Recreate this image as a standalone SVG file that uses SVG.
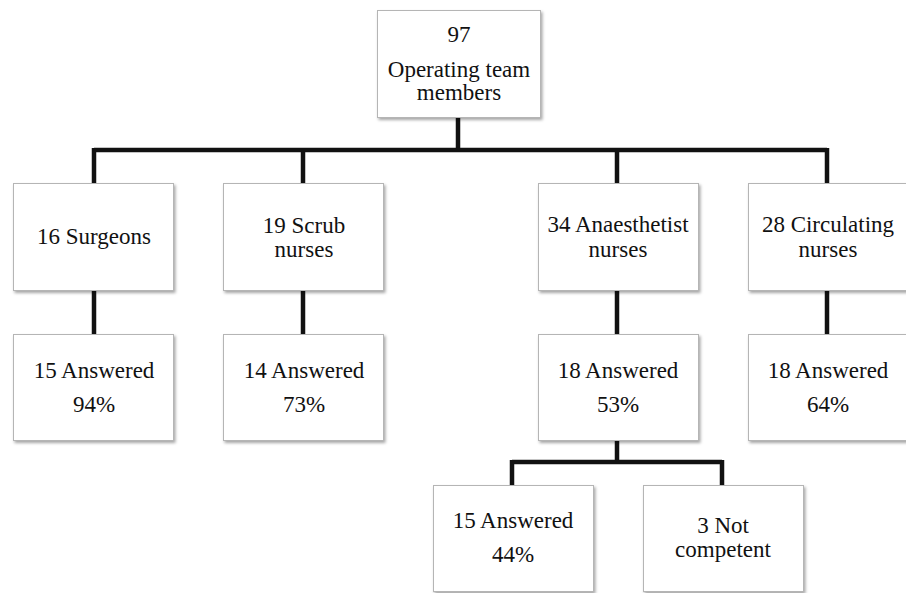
<svg xmlns="http://www.w3.org/2000/svg" width="906" height="593" viewBox="0 0 906 593">
<defs>
<filter id="sh" x="-10%" y="-10%" width="130%" height="130%">
<feDropShadow dx="1.5" dy="2" stdDeviation="1.5" flood-color="#000" flood-opacity="0.35"/>
</filter>
<style>
.box{fill:#fff;stroke:#b5b5b5;stroke-width:1;filter:url(#sh)}
.t{font-size:23px;fill:#111;text-anchor:middle}
.c{fill:none;stroke:#111;stroke-width:4.5}
</style>
</defs>
<rect width="906" height="593" fill="#fff"/>
<g id="connectors">
<path class="c" d="M458 117V150M94 150H827M94 148V183M303 148V183M617 148V183M827 148V183"/>
<path class="c" d="M94 291V334M303 291V334M617 291V334M827 291V334"/>
<path class="c" d="M617 440V462M512 462H722M512 460V485M722 460V485"/>
</g>
<g font-family="'Liberation Serif', 'Times New Roman', 'DejaVu Serif', serif">
<g id="root"><rect class="box" x="377.5" y="10.5" width="163" height="107"/>
<text class="t" x="459" y="42">97</text><text class="t" x="459" y="77">Operating team</text><text class="t" x="459" y="100">members</text></g>
<g id="surgeons"><rect class="box" x="13.5" y="183.5" width="160" height="107"/>
<text class="t" x="94" y="244">16 Surgeons</text></g>
<g id="scrub"><rect class="box" x="223.5" y="183.5" width="160" height="107"/>
<text class="t" x="304" y="233">19 Scrub</text><text class="t" x="304" y="257">nurses</text></g>
<g id="anaesthetist"><rect class="box" x="538.5" y="183.5" width="160" height="107"/>
<text class="t" x="618" y="232">34 Anaesthetist</text><text class="t" x="618" y="257">nurses</text></g>
<g id="circulating"><rect class="box" x="748.5" y="183.5" width="162" height="107"/>
<text class="t" x="828" y="232">28 Circulating</text><text class="t" x="828" y="257">nurses</text></g>
<g id="surgeons-ans"><rect class="box" x="13.5" y="334.5" width="160" height="106"/>
<text class="t" x="94" y="378">15 Answered</text><text class="t" x="94" y="412">94%</text></g>
<g id="scrub-ans"><rect class="box" x="223.5" y="334.5" width="160" height="106"/>
<text class="t" x="304" y="378">14 Answered</text><text class="t" x="304" y="412">73%</text></g>
<g id="anaesthetist-ans"><rect class="box" x="538.5" y="334.5" width="160" height="106"/>
<text class="t" x="618" y="378">18 Answered</text><text class="t" x="618" y="412">53%</text></g>
<g id="circulating-ans"><rect class="box" x="748.5" y="334.5" width="162" height="106"/>
<text class="t" x="828" y="378">18 Answered</text><text class="t" x="828" y="412">64%</text></g>
<g id="anaes-answered"><rect class="box" x="433.5" y="485.5" width="160" height="106"/>
<text class="t" x="513" y="528">15 Answered</text><text class="t" x="513" y="562">44%</text></g>
<g id="not-competent"><rect class="box" x="643.5" y="485.5" width="160" height="106"/>
<text class="t" x="723" y="533">3 Not</text><text class="t" x="723" y="557">competent</text></g>
</g>
</svg>
